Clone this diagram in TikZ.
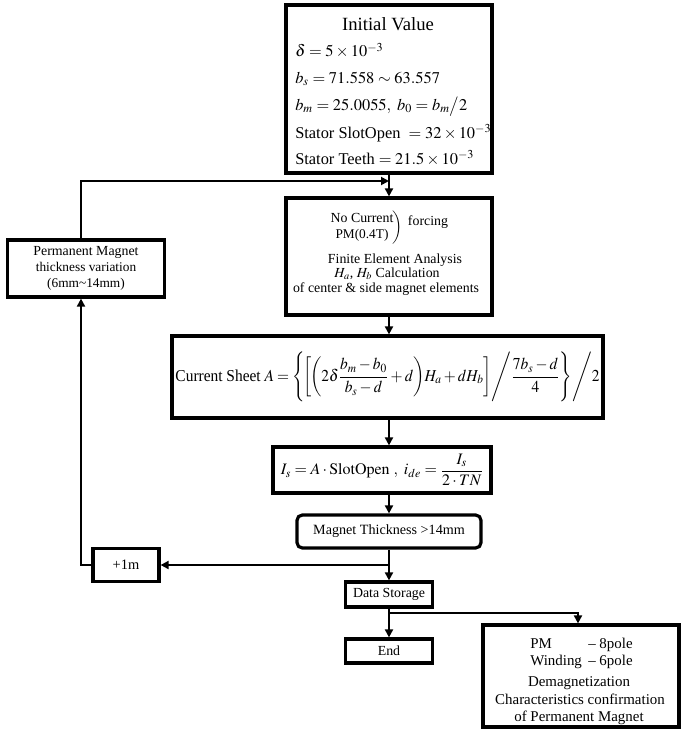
\documentclass[tikz,border=0pt]{standalone}
\usepackage{amsmath}
\usepackage{mathptmx}
\usepackage{fontspec}
\setmainfont{Liberation Serif}
\usetikzlibrary{arrows.meta,calc}
\newcommand\myfsize[1]{\fontsize{#1}{#1}\selectfont}
\newcommand\tightmath{\thinmuskip=1.5mu\medmuskip=2.5mu\thickmuskip=3.5mu}
\tikzset{
  box/.style={draw, line width=2.4pt, inner sep=0pt, align=center},
  sz/.style 2 args={minimum width=#1*0.75pt, minimum height=#2*0.75pt},
  txt/.style={inner sep=0pt},
  pmtxt/.style={inner sep=0pt, font=\myfsize{11.2}},
  conn/.style={line width=1.4pt},
  arr/.style={conn, -{Triangle[length=6pt,width=6pt]}},
}
\begin{document}
\begin{tikzpicture}[x=0.75pt,y=-0.75pt]
\useasboundingbox (0,0) rectangle (683,735);
% Initial value
\node[box, sz={206}{168}] (init) at (389,89) {};
\node[txt, anchor=base] (initT) at (388,30.5) {\myfsize{14}Initial Value};
\node[txt, anchor=base west] (init1) at (295,57) {\myfsize{12.3}$\delta = 5\times10^{-3}$};
\node[txt, anchor=base west] (init2) at (295,83.5) {\myfsize{12.3}$b_s = 71.558 \sim 63.557$};
\node[txt, anchor=base west] (init3) at (295,110.5) {\myfsize{12.3}$b_m = 25.0055,\ b_0 = b_m\big/2$};
\node[txt, anchor=base west] (init4) at (295,138) {\myfsize{12.3}Stator SlotOpen\ \ $=32\times10^{-3}$};
\node[txt, anchor=base west] (init5) at (295,164.5) {\myfsize{12.3}Stator Teeth $=21.5\times10^{-3}$};
% FEA
\node[box, sz={206}{117}] (fea) at (389,256.5) {};
\node[txt, align=center] (feaA) at (362,227) {\fontsize{10.4}{12.5}\selectfont No Current\\PM(0.4T)};
\node[txt] (feaP) at (398,228) {\myfsize{10.4}$\bigg)$};
\node[txt] (feaF) at (428,222) {\myfsize{10.4}forcing};
\node[txt, anchor=base] (feaB) at (395,263) {\myfsize{10.4}Finite Element Analysis};
\node[txt, anchor=base] (feaC) at (387,277.5) {\myfsize{10.4}$H_a$, $H_b$ Calculation};
\node[txt, anchor=base] (feaD) at (386,292) {\myfsize{10.4}of center \& side magnet elements};
% Current sheet
\node[box, sz={431}{82}] (cs) at (387.5,377) {\myfsize{12.5}\resizebox{318pt}{\height}{Current Sheet $\tightmath A=\left\{\!\left[\!\left(2\delta\dfrac{b_m-b_0}{b_s-d}+d\right)\!H_a+dH_b\right]\!\Bigg/\dfrac{7b_s-d}{4}\right\}\!\Bigg/2$}};
% Is
\node[box, sz={218}{46}] (isb) at (382,470) {\myfsize{12}$I_s = A\cdot\mathrm{SlotOpen}\ ,\ i_{de}=\dfrac{I_s}{2\cdot TN}$};
% Magnet thickness
\node[box, rounded corners=4pt, sz={184}{33}] (mag) at (389,531.5) {\myfsize{10.6}Magnet Thickness \textgreater14mm};
% +1m
\node[box, sz={66}{33}] (plus) at (126,565) {\myfsize{10.8}+1m};
% Permanent magnet thickness variation
\node[box, sz={157}{57}] (pmt) at (86,268.5) {\fontsize{10.4}{12.8}\selectfont Permanent Magnet\\thickness variation\\(6mm\textasciitilde14mm)};
% Data storage, End
\node[box, sz={87}{25}] (ds) at (389,594.5) {\myfsize{10.4}Data Storage};
\node[box, sz={87}{24}] (en) at (389,651) {\myfsize{10.4}End};
% PM box
\node[box, sz={196}{102}] (pm) at (581,676) {};
\node[pmtxt, anchor=base west] (pm1a) at (530,648) {PM};
\node[pmtxt, anchor=base west] (pm1b) at (588,648) {--\ 8pole};
\node[pmtxt, anchor=base west] (pm2a) at (530,665.5) {Winding};
\node[pmtxt, anchor=base west] (pm2b) at (588,665.5) {--\ 6pole};
\node[pmtxt, anchor=base] (pm3) at (579,686.5) {Demagnetization};
\node[pmtxt, anchor=base] (pm4) at (580,704) {Characteristics confirmation};
\node[pmtxt, anchor=base] (pm5) at (579,721) {of Permanent Magnet};
% coordinates
\coordinate (lx) at (81,0);
\coordinate (rx) at (578,0);
\coordinate (j0) at (389,181);
\coordinate (j1) at (389,565);
\coordinate (j2) at (389,613);
% connectors
\draw[arr] (init.south) -- (fea.north);
\draw[arr] (fea.south) -- (cs.north -| fea.south);
\draw[arr] (cs.south -| fea.south) -- (isb.north -| fea.south);
\draw[arr] (isb.south -| fea.south) -- (mag.north);
\draw[arr] (mag.south) -- (ds.north);
\draw[arr] (j1) -- (plus.east);
\draw[arr] (plus.west) -| (lx |- pmt.south);
\draw[arr] (lx |- pmt.north) |- (j0);
\draw[arr] (ds.south) -- (en.north);
\draw[arr] (j2) -| (rx |- pm.north);
\end{tikzpicture}
\end{document}
